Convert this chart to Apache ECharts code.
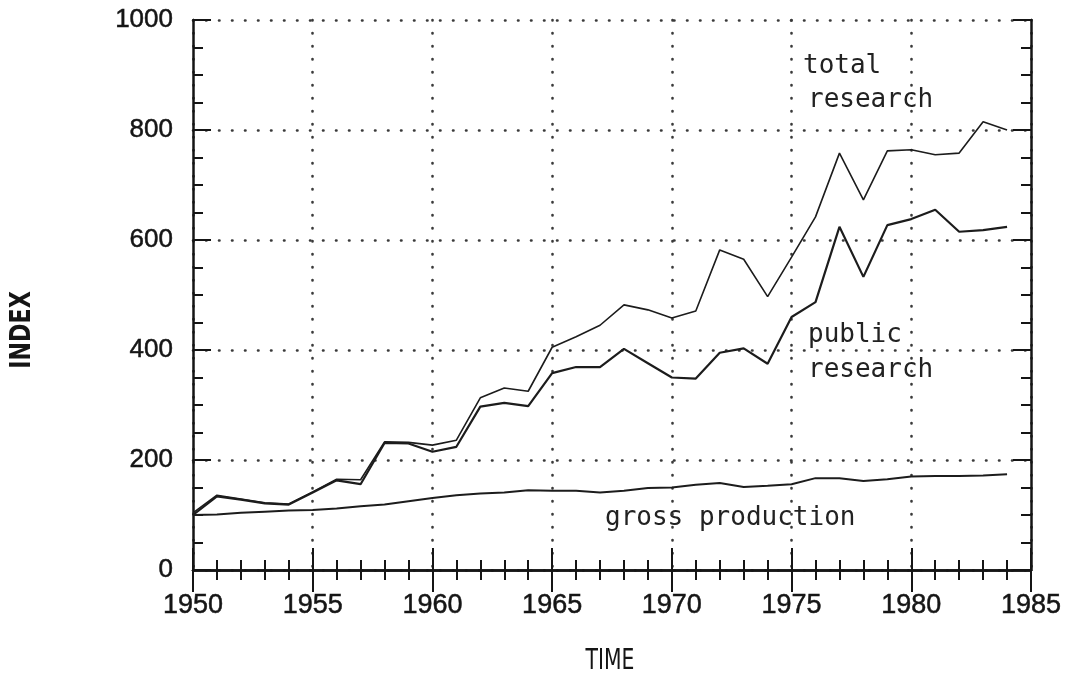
<!DOCTYPE html>
<html>
<head>
<meta charset="utf-8">
<script src="https://cdn.jsdelivr.net/npm/echarts@6/dist/echarts.min.js"></script>
<style>
  html, body { margin: 0; padding: 0; background: #fff; }
  #chart { width: 1076px; height: 676px; }
</style>
</head>
<body>
<div id="chart"></div>
<script>
// index values, 1950 = 100
const years = [1950, 1951, 1952, 1953, 1954, 1955, 1956, 1957, 1958, 1959,
  1960, 1961, 1962, 1963, 1964, 1965, 1966, 1967, 1968, 1969,
  1970, 1971, 1972, 1973, 1974, 1975, 1976, 1977, 1978, 1979,
  1980, 1981, 1982, 1983, 1984]
const totalResearch = [104, 136, 129, 122, 120, 142, 165, 164, 233, 232,
  227, 236, 313, 331, 325, 405, 424, 445, 482, 473,
  458, 471, 582, 565, 497, 569, 642, 758, 673, 762,
  764, 755, 758, 815, 800]
const publicResearch = [100, 134, 128, 121, 119, 141, 163, 156, 231, 230,
  215, 224, 297, 304, 298, 358, 369, 369, 402, 376,
  350, 348, 395, 403, 375, 460, 487, 624, 533, 627,
  638, 655, 615, 618, 624]
const grossProduction = [100, 101, 104, 106, 108, 109, 112, 116, 119, 125,
  131, 136, 139, 141, 145, 144, 144, 141, 144, 149,
  150, 155, 158, 151, 153, 156, 167, 167, 162, 165,
  170, 171, 171, 172, 174]

const ink = "#151515"
// plotter-style dotted grid: near-zero dashes with round caps give dots
const dotted = { color: "#3a3a3a", width: 2.6, type: [0.5, 12.5], cap: "round" }
const labelFont = { fontFamily: "Liberation Sans", color: ink, textBorderColor: ink, textBorderWidth: 0.5 }

function frameAxis(extra) {
  return Object.assign({
    type: "value",
    axisLine: { show: true, lineStyle: { color: ink, width: 2.5 } },
    axisTick: { show: true, inside: true, length: 22, lineStyle: { color: ink, width: 2 } },
    minorTick: { show: true, length: 10, lineStyle: { color: ink, width: 2 } },
    splitLine: { show: false },
    axisLabel: { show: false },
  }, extra)
}

const xRange = { min: 1950, max: 1985, interval: 5 }
const yRange = { min: 0, max: 1000, interval: 200 }
const xMinor = { show: true, splitNumber: 5, length: 10, lineStyle: { color: ink, width: 2 } }
const yMinor = { show: true, splitNumber: 4, length: 10, lineStyle: { color: ink, width: 2 } }
const yTick = { show: true, inside: true, length: 18, lineStyle: { color: ink, width: 2 } }

const chart = echarts.init(document.getElementById("chart"))

chart.setOption({
  backgroundColor: "#fff",
  animation: false,
  grid: { left: 193, right: 45, top: 20, bottom: 106, containLabel: false, outerBoundsMode: "none" },
  xAxis: [
    frameAxis({
      ...xRange, position: "bottom",
      minorTick: xMinor,
      splitLine: { show: true, lineStyle: dotted },
      axisLabel: { show: true, ...labelFont, fontSize: 27, margin: 22, formatter: v => String(v) },
    }),
    frameAxis({ ...xRange, position: "top", minorTick: xMinor }),
  ],
  yAxis: [
    frameAxis({
      ...yRange, position: "left",
      axisTick: yTick,
      minorTick: yMinor,
      splitLine: { show: true, lineStyle: dotted },
      axisLabel: { show: true, ...labelFont, fontSize: 26, margin: 20, formatter: v => String(v) },
    }),
    frameAxis({ ...yRange, position: "right", axisTick: yTick, minorTick: yMinor }),
  ],
  series: [
    { name: "total research", data: totalResearch, width: 1.6 },
    { name: "public research", data: publicResearch, width: 2.2 },
    { name: "gross production", data: grossProduction, width: 2 },
  ].map(s => ({
    type: "line",
    name: s.name,
    xAxisIndex: 0, yAxisIndex: 0,
    data: years.map((y, i) => [y, s.data[i]]),
    symbol: "none",
    lineStyle: { color: "#1c1c1c", width: s.width },
    silent: true,
  })),
  graphic: [
    // axis titles
    {
      type: "text", x: 22, y: 330, rotation: Math.PI / 2, scaleX: 0.85,
      style: { text: "INDEX", fontFamily: "DejaVu Sans Condensed", fontWeight: "bold", fontSize: 29,
        fill: ink, align: "center", verticalAlign: "middle" },
    },
    {
      type: "text", x: 610, y: 661, scaleX: 0.78,
      style: { text: "TIME", fontFamily: "DejaVu Sans Condensed", fontSize: 29,
        fill: ink, align: "center", verticalAlign: "middle" },
    },
    // in-plot labels
    ...[
      { x: 803, y: 66, text: "total" },
      { x: 808, y: 100, text: "research" },
      { x: 808, y: 335, text: "public" },
      { x: 808, y: 370, text: "research" },
      { x: 605, y: 518, text: "gross production" },
    ].map(t => ({
      type: "text",
      x: t.x, y: t.y,
      style: { text: t.text, fontFamily: "DejaVu Sans Mono", fontSize: 26, fill: "#222", verticalAlign: "middle" },
    })),
  ],
})
</script>
</body>
</html>
